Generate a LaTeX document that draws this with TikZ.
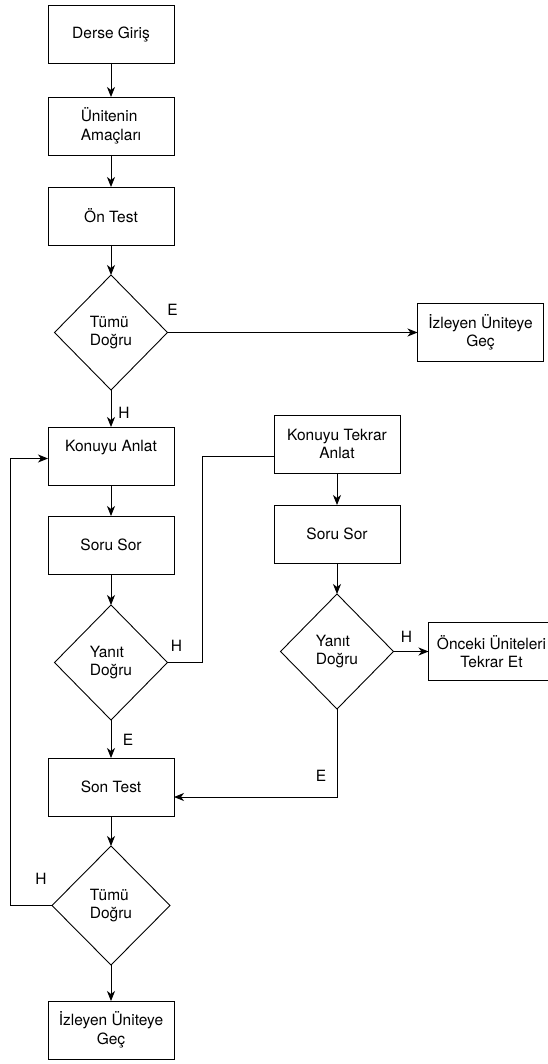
\documentclass[tikz,border=0pt]{standalone}
\usepackage{fontspec}
\setmainfont{TeX Gyre Heros}
\usetikzlibrary{%
	arrows.meta,%
	shapes.geometric,%
	positioning,%
}
\tikzset{
	>={Stealth[length=10pt,width=8pt,inset=3pt]},%
	procnode/.style={%
			draw,%
			rectangle,%
			minimum width=126pt,%
			minimum height=58pt,%
			inner sep=0,%
			outer sep=0,%
			align=center},%
	decisionnode/.style={%
			draw,%
			diamond,%
			minimum width=113pt,%
			minimum height=115pt,%
			inner sep=0,%
			outer sep=0,%
			align=left},%
	labelnode/.style={%
			inner sep=0},%
}

\begin{document}
\begin{tikzpicture}[font={\fontsize{15.5}{18.5}\selectfont}, line width=0.9pt]%
	\clip (0,0) rectangle (548pt,-1064pt);

	\node[procnode] (dg) at (111pt,-34pt) {Derse Giriş};
	\node[procnode, align=left] (ua) [below=34pt of dg] {Ünitenin\\Amaçları};
	\node[procnode] (ot) [below=32pt of ua] {Ön Test};
	\node[decisionnode] (td1) [below=30pt of ot] {Tümü\\Doğru};
	\node[procnode] (iug1) [right=250pt of td1] {İzleyen Üniteye\\Geç};

	\node[procnode, text depth=20pt] (ka) [below=37pt of td1] {Konuyu Anlat};
	\node[procnode] (ss1) [below=31pt of ka] {Soru Sor};
	\node[decisionnode] (yd1) [below=31pt of ss1] {Yanıt\\Doğru};

	\node[procnode] (kta) [right=100pt of ka, yshift=12pt] {Konuyu Tekrar\\Anlat};
	\node[procnode] (ss2) [below=32pt of kta] {Soru Sor};
	\node[decisionnode] (yd2) [below=31pt of ss2] {Yanıt\\Doğru};
	\node[procnode] (oute) [right=35pt of yd2] {Önceki Üniteleri\\Tekrar Et};

	\node[procnode] (st) [below=38pt of yd1] {Son Test};
	\node[decisionnode, minimum width=118pt, minimum height=119pt] (td2) [below=30pt of st] {Tümü\\Doğru};
	\node[procnode] (iug2) [below=36pt of td2] {İzleyen Üniteye\\Geç};

	\coordinate (hk) at ([xshift=35pt]yd1.east);
	\coordinate (lp) at ([xshift=-42pt]td2.west);

	\draw[->] (dg) -- (ua);
	\draw[->] (ua) -- (ot);
	\draw[->] (ot) -- (td1);
	\draw[->] (td1) -- (iug1);
	\draw[->] (td1) -- (ka);
	\draw[->] (ka) -- (ss1);
	\draw[->] (ss1) -- (yd1);
	\draw (yd1.east) -- (hk) -- (hk |- ka.east) -- (kta.west |- ka.east);
	\draw[->] (yd1) -- (st);
	\draw[->] (kta) -- (ss2);
	\draw[->] (ss2) -- (yd2);
	\draw[->] (yd2) -- (oute);
	\draw[->] (yd2.south) |- ([yshift=-10pt]st.east);
	\draw[->] (st) -- (td2);
	\draw[->] (td2) -- (iug2);
	\draw[->] (td2.west) -- (lp) |- ([yshift=-2.5pt]ka.west);

	\node[labelnode] (le1) at ([shift={(5pt,23pt)}]td1.east) {E};
	\node[labelnode] (lh1) at ([shift={(13pt,-23pt)}]td1.south) {H};
	\node[labelnode] (lh2) at ([shift={(9pt,17pt)}]yd1.east) {H};
	\node[labelnode] (le2) at ([shift={(17pt,-20pt)}]yd1.south) {E};
	\node[labelnode] (lh3) at ([shift={(13pt,15pt)}]yd2.east) {H};
	\node[labelnode] (le3) at ([shift={(-16pt,-67pt)}]yd2.south) {E};
	\node[labelnode] (lh4) at ([shift={(-11pt,27pt)}]td2.west) {H};
\end{tikzpicture}
\end{document}
